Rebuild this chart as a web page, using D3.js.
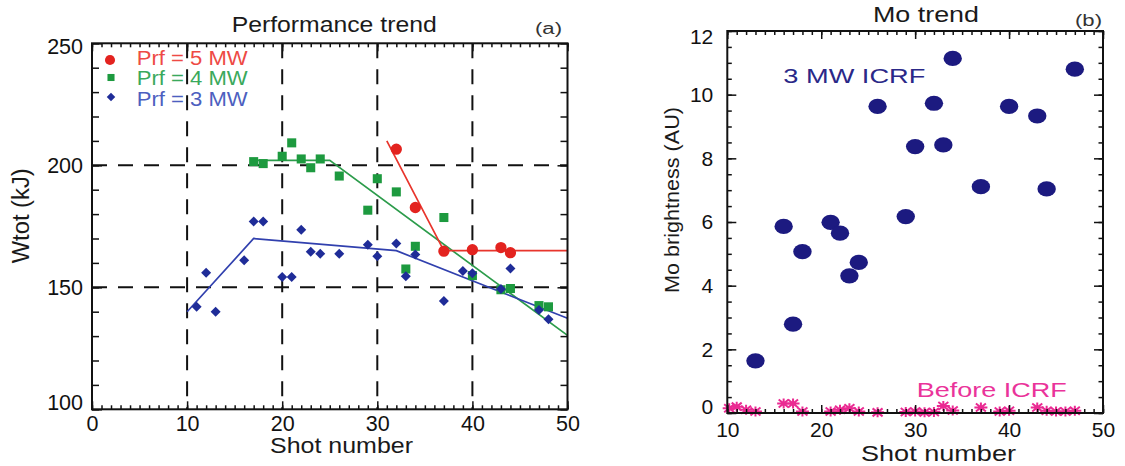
<!DOCTYPE html>
<html>
<head>
<meta charset="utf-8">
<script src="https://cdn.jsdelivr.net/npm/d3@7"></script>
<style>
  html, body { margin: 0; padding: 0; background: #fff; }
  svg { display: block; font-family: "Liberation Sans", Arial, Helvetica, sans-serif; }
</style>
</head>
<body>
<svg id="chart" width="1125" height="466"></svg>
<script>
// ---- (a) Performance trend: stored energy vs shot number ----
const shots5 = [32, 34, 37, 40, 43, 44];
const wtot5  = [206.6, 182.7, 164.8, 165.4, 166.3, 164.2];

const shots4 = [17, 18, 20, 21, 22, 23, 24, 26, 29, 30, 32, 33, 34, 37, 40, 43, 44, 47, 48];
const wtot4  = [201.5, 200.7, 203.7, 209.2, 202.6, 199.0, 202.6, 195.6, 181.6, 194.5,
                189.1, 157.5, 166.8, 178.6, 154.8, 149.0, 149.5, 142.5, 142.0];

const shots3 = [11, 12, 13, 16, 17, 18, 20, 21, 22, 23, 24, 26, 29, 30, 32, 33, 34, 37, 39, 40, 43, 44, 47, 48];
const wtot3  = [142.0, 156.0, 140.0, 161.1, 177.0, 177.0, 154.2, 154.2, 173.6, 164.6, 163.8, 163.7,
                167.4, 162.7, 167.9, 154.5, 163.4, 144.4, 156.7, 155.8, 149.3, 157.7, 140.7, 136.9];

// piecewise trend lines
const trend5X = [31, 37, 50];        const trend5Y = [210, 165, 165];
const trend4X = [16.7, 25, 50];      const trend4Y = [202, 202, 130.3];
const trend3X = [10, 17, 32, 50];    const trend3Y = [140, 170, 165, 137.3];

const legendLabels = ["Prf = 5 MW", "Prf = 4 MW", "Prf = 3 MW"];
const xTicksA = [0, 10, 20, 30, 40, 50];
const yTicksA = [100, 150, 200, 250];
const gridXA = [10, 20, 30, 40];
const gridYA = [150, 200];

// ---- (b) Mo trend: Mo brightness vs shot number ----
const shotsIcrf = [13, 16, 17, 18, 21, 22, 23, 24, 26, 29, 30, 32, 33, 34, 37, 40, 43, 44, 47];
const moIcrf    = [1.64, 5.86, 2.79, 5.07, 5.99, 5.65, 4.31, 4.73, 9.63, 6.17, 8.37, 9.73, 8.42,
                   11.14, 7.11, 9.63, 9.33, 7.04, 10.8];

const shotsBefore = [10.2, 11, 12, 13, 16, 17, 18, 21, 22, 23, 24, 26, 29, 30, 31, 32, 33, 34, 37, 39, 40, 43, 44, 45, 46, 47];
const moBefore    = [0.15, 0.2, 0.1, 0.05, 0.3, 0.3, 0.05, 0.05, 0.1, 0.15, 0.05, 0.02, 0.03, 0.05,
                     0.02, 0.03, 0.22, 0.08, 0.17, 0.05, 0.07, 0.17, 0.07, 0.05, 0.05, 0.07];

const xTicksB = [10, 20, 30, 40, 50];
const yTicksB = [0, 2, 4, 6, 8, 10, 12];

const svg = d3.select("#chart");

const xA = d3.scaleLinear().domain([0, 50]).range([92, 567.5]);
const yA = d3.scaleLinear().domain([100, 250]).range([409.3, 43.3]);
const xB = d3.scaleLinear().domain([10, 50]).range([727.3, 1103]);
const yB = d3.scaleLinear().domain([0, 12]).range([413, 31]);

// text helper: stretched label with fixed extent
function label(g, txt, x, y, opts) {
  const t = g.append("text")
    .attr("x", x).attr("y", y)
    .attr("font-size", opts.size)
    .attr("fill", opts.color || "#111")
    .text(txt);
  if (opts.len) t.attr("textLength", opts.len).attr("lengthAdjust", "spacingAndGlyphs");
  if (opts.rotate) t.attr("transform", `rotate(-90,${x},${y})`);
  return t;
}

// inward tick frame built from d3 axes
function frame(x, y, cfg) {
  const [x0, x1] = x.range();
  const [y0, y1] = y.range();
  const g = svg.append("g");
  const strip = sel => sel.select(".domain").remove();
  const styleTicks = sel => sel.selectAll(".tick line").attr("stroke", "#111").attr("stroke-width", 1.5);

  const xMinor = d3.range(x.domain()[0], x.domain()[1] + 0.001, cfg.xMinorStep);
  const yMinor = d3.range(y.domain()[0], y.domain()[1] + 0.001, cfg.yMinorStep);

  // bottom
  g.append("g").attr("transform", `translate(0,${y0})`)
    .call(d3.axisBottom(x).tickValues(xMinor).tickSize(-cfg.xMinorLen).tickFormat(""))
    .call(strip).call(styleTicks);
  const bx = g.append("g").attr("transform", `translate(0,${y0})`)
    .call(d3.axisBottom(x).tickValues(cfg.xTicks).tickSize(-cfg.xMajorLen).tickPadding(cfg.xPad).tickFormat(d3.format("d")))
    .call(strip).call(styleTicks);
  bx.selectAll(".tick text").attr("font-size", cfg.fs).attr("fill", "#111").attr("font-family", null);
  // top
  g.append("g").attr("transform", `translate(0,${y1})`)
    .call(d3.axisTop(x).tickValues(xMinor).tickSize(-cfg.xMinorLen).tickFormat(""))
    .call(strip).call(styleTicks);
  g.append("g").attr("transform", `translate(0,${y1})`)
    .call(d3.axisTop(x).tickValues(cfg.xTicks).tickSize(-cfg.xMajorLen).tickFormat(""))
    .call(strip).call(styleTicks);
  // left
  g.append("g").attr("transform", `translate(${x0},0)`)
    .call(d3.axisLeft(y).tickValues(yMinor).tickSize(-cfg.yMinorLen).tickFormat(""))
    .call(strip).call(styleTicks);
  const ly = g.append("g").attr("transform", `translate(${x0},0)`)
    .call(d3.axisLeft(y).tickValues(cfg.yTicks).tickSize(-cfg.yMajorLen).tickPadding(cfg.yPad).tickFormat(d3.format("d")))
    .call(strip).call(styleTicks);
  ly.selectAll(".tick text").attr("font-size", cfg.fs).attr("fill", "#111").attr("font-family", null)
    .attr("transform", d => d === y.domain()[1] ? `translate(0,${cfg.topShift})`
                           : d === y.domain()[0] ? `translate(0,${cfg.bottomShift})` : null);
  // right
  g.append("g").attr("transform", `translate(${x1},0)`)
    .call(d3.axisRight(y).tickValues(yMinor).tickSize(-cfg.yMinorLen).tickFormat(""))
    .call(strip).call(styleTicks);
  g.append("g").attr("transform", `translate(${x1},0)`)
    .call(d3.axisRight(y).tickValues(cfg.yTicks).tickSize(-cfg.yMajorLen).tickFormat(""))
    .call(strip).call(styleTicks);

  g.append("rect")
    .attr("x", x0).attr("y", y1)
    .attr("width", x1 - x0).attr("height", y0 - y1)
    .attr("fill", "none").attr("stroke", "#111").attr("stroke-width", 2);
  return g;
}

// ================= Panel (a) =================
const gA = svg.append("g");

// dashed grid
gA.selectAll("line.gx").data(gridXA).join("line")
  .attr("x1", d => xA(d)).attr("x2", d => xA(d))
  .attr("y1", yA(250)).attr("y2", yA(100))
  .attr("stroke", "#111").attr("stroke-width", 2).attr("stroke-dasharray", "15,11");
gA.selectAll("line.gy").data(gridYA).join("line")
  .attr("x1", xA(0)).attr("x2", xA(50))
  .attr("y1", d => yA(d)).attr("y2", d => yA(d))
  .attr("stroke", "#111").attr("stroke-width", 2).attr("stroke-dasharray", "15,11");

frame(xA, yA, {
  xTicks: xTicksA, yTicks: yTicksA,
  xMinorStep: 1, yMinorStep: 10,
  xMinorLen: 4, xMajorLen: 8, yMinorLen: 7, yMajorLen: 10,
  xPad: 6, yPad: 9, fs: 21.5, topShift: 3, bottomShift: -7
});

const colRed = "#e3231f", colGreen = "#1d9a3f", colBlue = "#1f2c98";
const lineRed = "#e8352c", lineGreen = "#2c9c4b", lineBlue = "#3140ae";

const lineGen = d3.line().x(d => xA(d[0])).y(d => yA(d[1]));
[[trend4X, trend4Y, lineGreen], [trend3X, trend3Y, lineBlue], [trend5X, trend5Y, lineRed]].forEach(([xs, ys, c]) => {
  gA.append("path")
    .attr("d", lineGen(xs.map((v, i) => [v, ys[i]])))
    .attr("fill", "none").attr("stroke", c).attr("stroke-width", 1.7);
});

const sq = d3.symbol().type(d3.symbolSquare);
const circ = d3.symbol().type(d3.symbolCircle);

gA.selectAll("path.s4").data(shots4.map((s, i) => [s, wtot4[i]])).join("path")
  .attr("d", sq.size(82)())
  .attr("transform", d => `translate(${xA(d[0])},${yA(d[1])})`)
  .attr("fill", colGreen);
gA.selectAll("path.s3").data(shots3.map((s, i) => [s, wtot3[i]])).join("path")
  .attr("d", sq.size(50)())
  .attr("transform", d => `translate(${xA(d[0])},${yA(d[1])}) rotate(45)`)
  .attr("fill", colBlue);
gA.selectAll("path.s5").data(shots5.map((s, i) => [s, wtot5[i]])).join("path")
  .attr("d", circ.size(100)())
  .attr("transform", d => `translate(${xA(d[0])},${yA(d[1])})`)
  .attr("fill", colRed);

// legend
const legY = [65, 85.3, 105.7];
const legText = ["#ee4a45", "#3aa95c", "#4d5fc0"];
gA.append("path").attr("d", circ.size(80)()).attr("transform", `translate(110,60)`).attr("fill", colRed);
gA.append("path").attr("d", sq.size(50)()).attr("transform", `translate(111,77.5)`).attr("fill", colGreen);
gA.append("path").attr("d", sq.size(36)()).attr("transform", `translate(111,97) rotate(45)`).attr("fill", colBlue);
legendLabels.forEach((t, i) => label(gA, t, 136.7, legY[i], { size: 20, color: legText[i], len: 111 }));

label(gA, "Performance trend", 231.7, 32, { size: 22, color: "#1a1a1a", len: 205 });
label(gA, "(a)", 535, 33.5, { size: 16, color: "#333", len: 27 });
label(gA, "Shot number", 270, 453, { size: 21.5, color: "#1a1a1a", len: 143 });
label(gA, "Wtot (kJ)", 29, 263.3, { size: 23, color: "#1a1a1a", len: 95, rotate: true });

// ================= Panel (b) =================
const gB = svg.append("g");
frame(xB, yB, {
  xTicks: xTicksB, yTicks: yTicksB,
  xMinorStep: 1, yMinorStep: 0.5,
  xMinorLen: 4, xMajorLen: 8, yMinorLen: 4.5, yMajorLen: 9,
  xPad: 9, yPad: 14, fs: 21, topShift: 6, bottomShift: -6
});

gB.selectAll("ellipse").data(shotsIcrf.map((s, i) => [s, moIcrf[i]])).join("ellipse")
  .attr("cx", d => xB(d[0])).attr("cy", d => yB(d[1]))
  .attr("rx", 9.2).attr("ry", 7.6)
  .attr("fill", "#1c1a80");

// eight-armed asterisk marker
const star = "M-6.5,0L6.5,0M0,-5L0,5M-5,-4L5,4M-5,4L5,-4";
gB.selectAll("path.before").data(shotsBefore.map((s, i) => [s, moBefore[i]])).join("path")
  .attr("d", star)
  .attr("transform", d => `translate(${xB(d[0])},${yB(d[1])})`)
  .attr("fill", "none").attr("stroke", "#ea2a92").attr("stroke-width", 2);

label(gB, "3 MW ICRF", 783.3, 83.3, { size: 21, color: "#2a2888", len: 142 });
label(gB, "Before ICRF", 916.7, 396.7, { size: 21, color: "#ea339a", len: 150 });
label(gB, "Mo trend", 873, 21.7, { size: 22, color: "#1a1a1a", len: 106 });
label(gB, "(b)", 1075, 25.5, { size: 16, color: "#333", len: 27 });
label(gB, "Shot number", 861, 461, { size: 22, color: "#1a1a1a", len: 155 });
label(gB, "Mo brightness (AU)", 678.5, 293, { size: 19.5, color: "#1a1a1a", len: 186, rotate: true });
</script>
</body>
</html>
